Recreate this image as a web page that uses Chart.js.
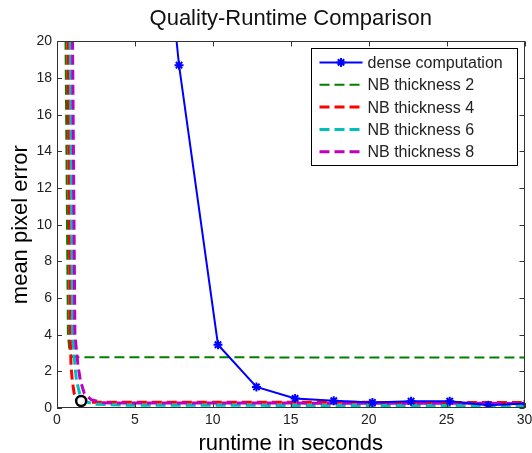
<!DOCTYPE html>
<html>
<head>
<meta charset="utf-8">
<title>Quality-Runtime Comparison</title>
<script src="https://cdn.jsdelivr.net/npm/chart.js@4/dist/chart.umd.min.js"></script>
<style>
  html, body { margin: 0; padding: 0; background: #fff; }
  #chart { display: block; }
</style>
</head>
<body>
<canvas id="chart" width="532" height="453"></canvas>
<script>
// values (runtime in seconds, mean pixel error)
var denseX = [5.3, 7.83, 10.33, 12.8, 15.28, 17.76, 20.24, 22.72, 25.2, 27.68, 30.16];
var denseY = [40, 18.7, 3.45, 1.15, 0.52, 0.4, 0.3, 0.37, 0.37, 0.15, 0.25];

var nb2X = [0.5, 0.7, 0.78, 0.95, 1.4, 30];
var nb2Y = [25, 4, 3.3, 2.8, 2.77, 2.75];

var nb4X = [0.65, 0.85, 0.9, 0.98, 1.1, 1.4, 2.2, 30];
var nb4Y = [25, 4, 2.3, 1.5, 0.8, 0.45, 0.32, 0.3];

var nb6X = [0.8, 1.0, 1.15, 1.25, 1.45, 1.8, 2.5, 4.5, 30];
var nb6Y = [25, 4, 2.3, 1.5, 0.8, 0.35, 0.2, 0.15, 0.13];

var nb8X = [0.95, 1.15, 1.35, 1.5, 1.75, 2.2, 3, 30];
var nb8Y = [25, 4, 2.3, 1.5, 0.8, 0.45, 0.28, 0.25];

// black circle marker
var markX = [1.55];
var markY = [0.38];

var seriesLabels = ["dense computation", "NB thickness 2", "NB thickness 4", "NB thickness 6", "NB thickness 8"];
var xTicks = [0, 5, 10, 15, 20, 25, 30];
var yTicks = [0, 2, 4, 6, 8, 10, 12, 14, 16, 18, 20];

var FONT = "'Liberation Sans', Arial, sans-serif";

function toPoints(xs, ys) {
  var pts = [];
  for (var i = 0; i < xs.length; i++) {
    pts.push({ x: xs[i], y: ys[i] });
  }
  return pts;
}

function nbSeries(label, xs, ys, color, width, order) {
  return {
    label: label,
    data: toPoints(xs, ys),
    borderColor: color,
    backgroundColor: color,
    borderWidth: width,
    borderDash: [10, 5],
    pointRadius: 0,
    tension: 0,
    order: order
  };
}

// inward ticks on all four sides plus the box, like matlab axes
var boxTicks = {
  id: "boxTicks",
  afterDatasetsDraw: function(chart) {
    var ctx = chart.ctx;
    var a = chart.chartArea;
    var xs = chart.scales.x, ys = chart.scales.y;
    var len = 5;
    ctx.save();
    ctx.strokeStyle = "#333";
    ctx.lineWidth = 1;
    ctx.beginPath();
    xs.ticks.forEach(function(t) {
      var px = Math.round(xs.getPixelForValue(t.value)) + 0.5;
      ctx.moveTo(px, a.bottom); ctx.lineTo(px, a.bottom - len);
      ctx.moveTo(px, a.top); ctx.lineTo(px, a.top + len);
    });
    ys.ticks.forEach(function(t) {
      var py = Math.round(ys.getPixelForValue(t.value)) + 0.5;
      ctx.moveTo(a.left, py); ctx.lineTo(a.left + len, py);
      ctx.moveTo(a.right, py); ctx.lineTo(a.right - len, py);
    });
    ctx.stroke();
    ctx.strokeRect(Math.round(a.left) + 0.5, Math.round(a.top) + 0.5,
      Math.round(a.right - a.left) - 1, Math.round(a.bottom - a.top) - 1);
    ctx.restore();
  }
};

// legend box in the upper right corner of the plot
var boxLegend = {
  id: "boxLegend",
  afterDraw: function(chart) {
    var ctx = chart.ctx;
    var a = chart.chartArea;
    var sets = chart.data.datasets.filter(function(d) { return d.label; });
    var left = a.right - 214, top = a.top + 7;
    var w = 206, h = 117, rowH = 22.35;
    ctx.save();
    ctx.fillStyle = "#fff";
    ctx.fillRect(left, top, w, h);
    ctx.strokeStyle = "#000";
    ctx.lineWidth = 1;
    ctx.strokeRect(Math.round(left) + 0.5, Math.round(top) + 0.5, w, h);
    ctx.font = "16px " + FONT;
    ctx.textBaseline = "middle";
    ctx.textAlign = "left";
    sets.forEach(function(d, i) {
      var y = top + 14 + i * rowH;
      var x0 = left + 9, x1 = left + 52;
      ctx.strokeStyle = d.borderColor;
      ctx.lineWidth = d.borderWidth;
      ctx.setLineDash(d.borderDash || []);
      ctx.beginPath();
      ctx.moveTo(x0, y); ctx.lineTo(x1, y);
      ctx.stroke();
      ctx.setLineDash([]);
      if (d.pointRadius) {
        ctx.fillStyle = d.borderColor;
        Chart.helpers.drawPoint(ctx, {
          pointStyle: d.pointStyle, radius: d.pointRadius,
          borderWidth: d.pointBorderWidth, rotation: 0
        }, (x0 + x1) / 2, y);
      }
      ctx.fillStyle = "#222";
      ctx.fillText(d.label, left + 57, y + 1);
    });
    ctx.restore();
  }
};

function generateChart() {
  var ctx = document.getElementById("chart").getContext("2d");
  var config = {
    type: "line",
    data: {
      datasets: [
        {
          label: "",
          data: toPoints(markX, markY),
          showLine: false,
          pointStyle: "circle",
          pointRadius: 5,
          pointBorderWidth: 2.5,
          pointBorderColor: "#000",
          pointBackgroundColor: "#fff",
          order: 0
        },
        {
          label: seriesLabels[0],
          data: toPoints(denseX, denseY),
          borderColor: "#0000ff",
          backgroundColor: "#0000ff",
          borderWidth: 2,
          pointStyle: "star",
          pointRadius: 4.5,
          pointBorderWidth: 2,
          pointBorderColor: "#0000ff",
          tension: 0,
          order: 1
        },
        nbSeries(seriesLabels[1], nb2X, nb2Y, "#008000", 2, 5),
        nbSeries(seriesLabels[2], nb4X, nb4Y, "#ff0000", 3, 4),
        nbSeries(seriesLabels[3], nb6X, nb6Y, "#00bfbf", 3, 3),
        nbSeries(seriesLabels[4], nb8X, nb8Y, "#bf00bf", 3, 2)
      ]
    },
    options: {
      responsive: false,
      animation: false,
      devicePixelRatio: 1,
      layout: { padding: { left: 0, right: 4, top: 0, bottom: 0 } },
      plugins: {
        legend: { display: false },
        tooltip: { enabled: false },
        title: {
          display: true,
          fullSize: false,
          text: "Quality-Runtime Comparison",
          color: "#111",
          font: { family: FONT, size: 22, weight: "normal", lineHeight: 1.2 },
          padding: { top: 6, bottom: 9 }
        }
      },
      scales: {
        x: {
          type: "linear",
          min: 0,
          max: 30,
          afterBuildTicks: function(s) {
            s.ticks = xTicks.map(function(v) { return { value: v }; });
          },
          afterFit: function(s) {
            s.height = 45;
            s.paddingLeft = 0;
            s.paddingRight = 0;
          },
          grid: { display: false, drawTicks: false },
          border: { display: false },
          ticks: {
            padding: 4,
            color: "#222",
            maxRotation: 0,
            autoSkip: false,
            font: { family: FONT, size: 14 }
          },
          title: {
            display: true,
            text: "runtime in seconds",
            color: "#000",
            font: { family: FONT, size: 22, lineHeight: 0.82 },
            padding: 0
          }
        },
        y: {
          type: "linear",
          min: 0,
          max: 20,
          afterBuildTicks: function(s) {
            s.ticks = yTicks.map(function(v) { return { value: v }; });
          },
          afterFit: function(s) {
            s.width = 57;
          },
          grid: { display: false, drawTicks: false },
          border: { display: false },
          ticks: {
            padding: 5,
            color: "#222",
            autoSkip: false,
            font: { family: FONT, size: 14 }
          },
          title: {
            display: true,
            text: "mean pixel error",
            color: "#000",
            font: { family: FONT, size: 22, lineHeight: 1 },
            padding: { top: 10, bottom: 0 }
          }
        }
      }
    },
    plugins: [boxTicks, boxLegend]
  };
  new Chart(ctx, config);
}

generateChart();
</script>
</body>
</html>
